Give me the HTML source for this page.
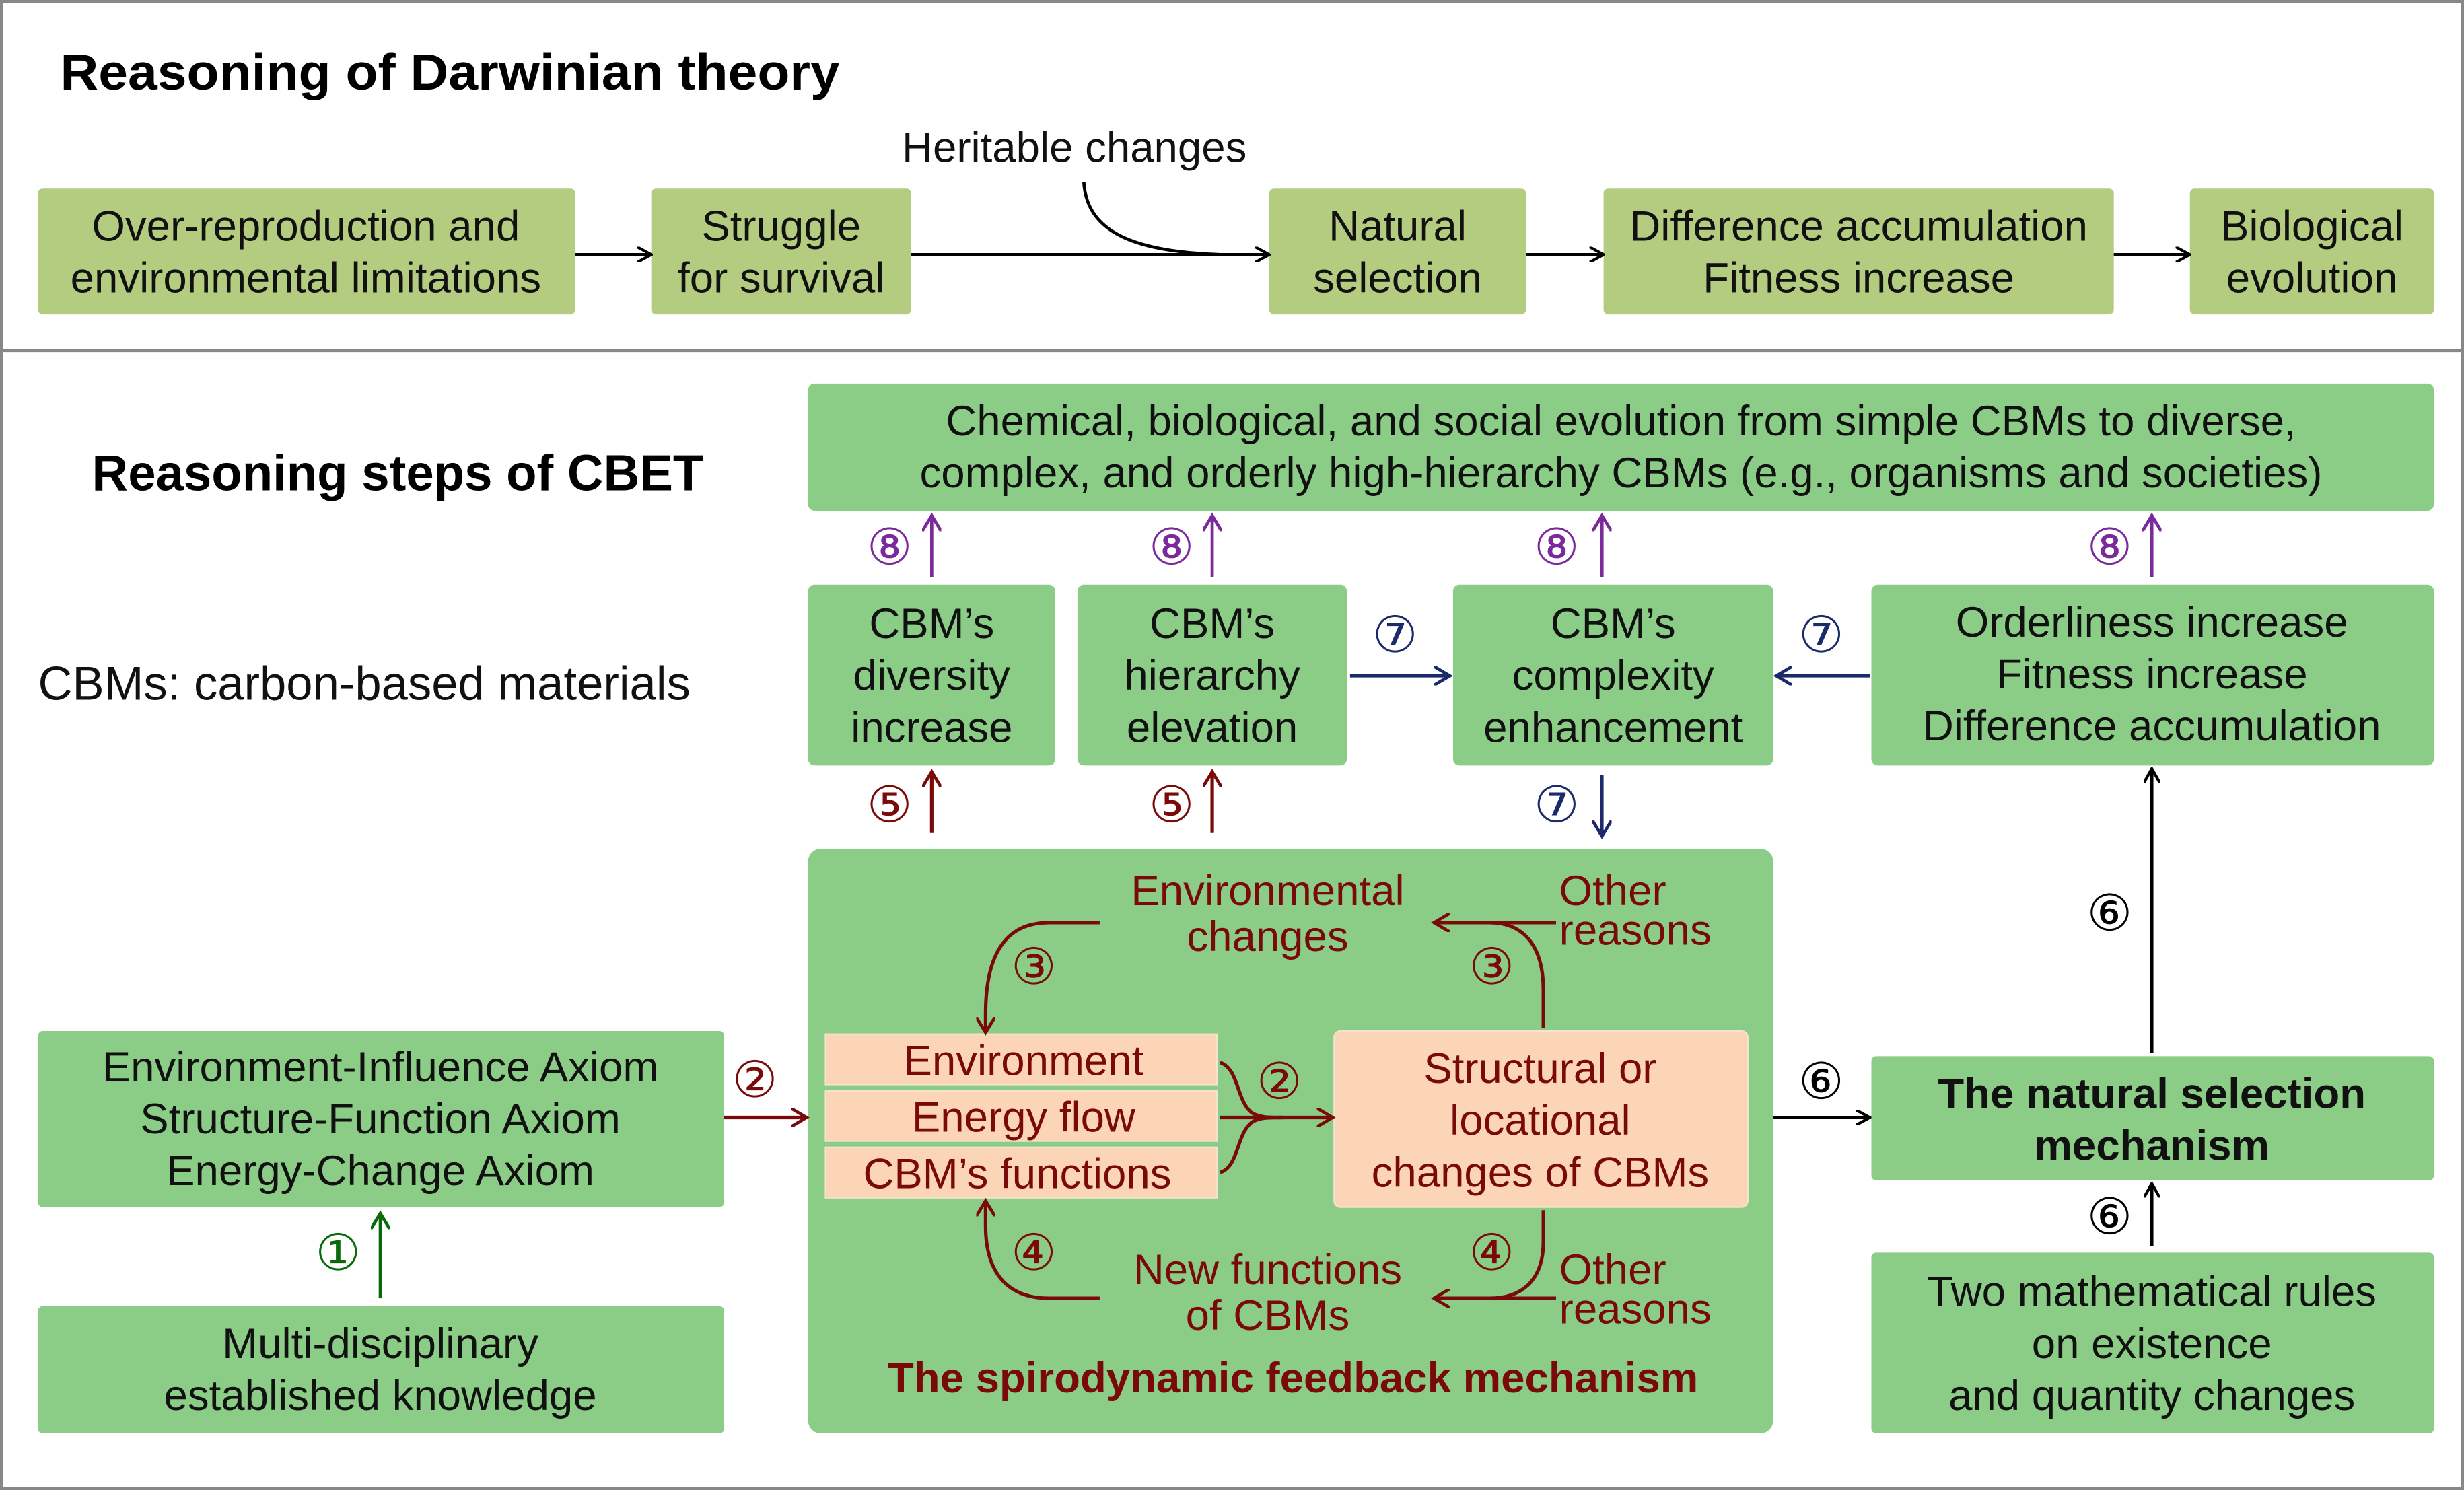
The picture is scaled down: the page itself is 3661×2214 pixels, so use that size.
<!DOCTYPE html>
<html><head><meta charset="utf-8"><style>
html,body{margin:0;padding:0;background:#fff;}
svg{display:block;}
text{font-family:"Liberation Sans","DejaVu Sans",sans-serif;}
</style></head><body>
<svg width="3661" height="2214" viewBox="0 0 1555 948" preserveAspectRatio="none" xmlns="http://www.w3.org/2000/svg">
<defs>
<marker id="ak" markerWidth="10" markerHeight="10" refX="8" refY="5" orient="auto" markerUnits="userSpaceOnUse"><path d="M0,0 L9,5 L0,10" fill="none" stroke="#000" stroke-width="1.8"/></marker>
<marker id="ar" markerWidth="12" markerHeight="12" refX="9" refY="6" orient="auto" markerUnits="userSpaceOnUse"><path d="M0,0 L10,6 L0,12" fill="none" stroke="#7a0a0a" stroke-width="2"/></marker>
<marker id="ab" markerWidth="12" markerHeight="12" refX="9" refY="6" orient="auto" markerUnits="userSpaceOnUse"><path d="M0,0 L10,6 L0,12" fill="none" stroke="#1a2a6a" stroke-width="2"/></marker>
<marker id="ap" markerWidth="12" markerHeight="12" refX="9" refY="6" orient="auto" markerUnits="userSpaceOnUse"><path d="M0,0 L10,6 L0,12" fill="none" stroke="#7a2a9a" stroke-width="2"/></marker>
<marker id="ag" markerWidth="12" markerHeight="12" refX="9" refY="6" orient="auto" markerUnits="userSpaceOnUse"><path d="M0,0 L10,6 L0,12" fill="none" stroke="#0a6a0a" stroke-width="2"/></marker>
</defs>
<rect x="1" y="1" width="1553" height="946" fill="#fff" stroke="#888" stroke-width="2"/>
<line x1="0" y1="223" x2="1555" y2="223" stroke="#888" stroke-width="2"/>

<text x="38" y="57" font-size="32" font-weight="bold" textLength="492" lengthAdjust="spacingAndGlyphs">Reasoning of Darwinian theory</text>
<g fill="#b4cc80">
<rect x="24" y="120" width="339" height="80" rx="3"/>
<rect x="411" y="120" width="164" height="80" rx="3"/>
<rect x="801" y="120" width="162" height="80" rx="3"/>
<rect x="1012" y="120" width="322" height="80" rx="3"/>
<rect x="1382" y="120" width="154" height="80" rx="3"/>
</g>
<g font-size="27" text-anchor="middle" fill="#111">
<text x="193" y="153">Over-reproduction and</text><text x="193" y="186">environmental limitations</text>
<text x="493" y="153">Struggle</text><text x="493" y="186">for survival</text>
<text x="882" y="153">Natural</text><text x="882" y="186">selection</text>
<text x="1173" y="153">Difference accumulation</text><text x="1173" y="186">Fitness increase</text>
<text x="1459" y="153">Biological</text><text x="1459" y="186">evolution</text>
<text x="678" y="103">Heritable changes</text>
</g>
<g stroke="#000" stroke-width="2" fill="none">
<line x1="363" y1="162" x2="410" y2="162" marker-end="url(#ak)"/>
<line x1="575" y1="162" x2="800" y2="162" marker-end="url(#ak)"/>
<path d="M684,116 C686,150 720,160 770,162"/>
<line x1="963" y1="162" x2="1011" y2="162" marker-end="url(#ak)"/>
<line x1="1334" y1="162" x2="1381" y2="162" marker-end="url(#ak)"/>
</g>

<text x="58" y="312" font-size="32" font-weight="bold" textLength="386" lengthAdjust="spacingAndGlyphs">Reasoning steps of CBET</text>
<text x="24" y="445" font-size="30" fill="#111">CBMs: carbon-based materials</text>
<g fill="#8bcd87">
<rect x="510" y="244" width="1026" height="81" rx="4"/>
<rect x="510" y="372" width="156" height="115" rx="4"/>
<rect x="680" y="372" width="170" height="115" rx="4"/>
<rect x="917" y="372" width="202" height="115" rx="4"/>
<rect x="1181" y="372" width="355" height="115" rx="4"/>
<rect x="510" y="540" width="609" height="372" rx="8"/>
<rect x="24" y="656" width="433" height="112" rx="3"/>
<rect x="24" y="831" width="433" height="81" rx="3"/>
<rect x="1181" y="672" width="355" height="79" rx="3"/>
<rect x="1181" y="797" width="355" height="115" rx="3"/>
</g>
<g font-size="27" text-anchor="middle" fill="#111">
<text x="1023" y="277">Chemical, biological, and social evolution from simple CBMs to diverse,</text>
<text x="1023" y="310">complex, and orderly high-hierarchy CBMs (e.g., organisms and societies)</text>
<text x="588" y="406">CBM’s</text><text x="588" y="439">diversity</text><text x="588" y="472">increase</text>
<text x="765" y="406">CBM’s</text><text x="765" y="439">hierarchy</text><text x="765" y="472">elevation</text>
<text x="1018" y="406">CBM’s</text><text x="1018" y="439">complexity</text><text x="1018" y="472">enhancement</text>
<text x="1358" y="405">Orderliness increase</text><text x="1358" y="438">Fitness increase</text><text x="1358" y="471">Difference accumulation</text>
<text x="240" y="688">Environment-Influence Axiom</text><text x="240" y="721">Structure-Function Axiom</text><text x="240" y="754">Energy-Change Axiom</text>
<text x="240" y="864">Multi-disciplinary</text><text x="240" y="897">established knowledge</text>
<text x="1358" y="831">Two mathematical rules</text><text x="1358" y="864">on existence</text><text x="1358" y="897">and quantity changes</text>
<text x="1358" y="705" font-weight="bold">The natural selection</text><text x="1358" y="738" font-weight="bold">mechanism</text>
</g>

<g fill="#fbd5b5" stroke="#f3e3cf" stroke-width="1">
<rect x="521" y="658" width="247" height="32"/>
<rect x="521" y="694" width="247" height="32"/>
<rect x="521" y="730" width="247" height="32"/>
<rect x="842" y="656" width="261" height="112" rx="4"/>
</g>
<g font-size="27" text-anchor="middle" fill="#7a0a0a">
<text x="646" y="684">Environment</text>
<text x="646" y="720">Energy flow</text>
<text x="642" y="756">CBM’s functions</text>
<text x="972" y="689">Structural or</text><text x="972" y="722">locational</text><text x="972" y="755">changes of CBMs</text>
<text x="800" y="576">Environmental</text><text x="800" y="605">changes</text>
<text x="800" y="817">New functions</text><text x="800" y="846">of CBMs</text>
<text x="984" y="576" text-anchor="start">Other</text><text x="984" y="601" text-anchor="start">reasons</text>
<text x="984" y="817" text-anchor="start">Other</text><text x="984" y="842" text-anchor="start">reasons</text>
<text x="816" y="886" font-weight="bold">The spirodynamic feedback mechanism</text>
</g>
<g stroke="#7a0a0a" stroke-width="2.2" fill="none">
<path d="M694,587 L662,587 C636,587 622,605 622,645 L622,656" marker-end="url(#ar)"/>
<path d="M974,654 L974,630 C974,600 960,587 940,587 L906,587" marker-end="url(#ar)"/>
<path d="M982,587 L940,587"/>
<path d="M694,826 L662,826 C636,826 622,810 622,780 L622,765" marker-end="url(#ar)"/>
<path d="M974,770 L974,790 C974,815 960,826 940,826 L906,826" marker-end="url(#ar)"/>
<path d="M982,826 L940,826"/>
<path d="M770,676 C782,680 780,700 790,708 C795,711 800,711 810,711"/>
<path d="M770,746 C782,742 780,722 790,714 C795,711 800,711 810,711"/>
<path d="M770,711 L840,711" marker-end="url(#ar)"/>
<path d="M457,711 L508,711" marker-end="url(#ar)"/>
<line x1="588" y1="530" x2="588" y2="492" marker-end="url(#ar)"/>
<line x1="765" y1="530" x2="765" y2="492" marker-end="url(#ar)"/>
</g>
<g font-size="32" fill="#7a0a0a" font-family="DejaVu Sans">
<text x="638" y="626">③</text><text x="927" y="626">③</text>
<text x="638" y="808">④</text><text x="927" y="808">④</text>
<text x="793" y="699">②</text><text x="462" y="698">②</text>
<text x="547" y="523">⑤</text><text x="725" y="523">⑤</text>
</g>
<g stroke="#1a2a6a" stroke-width="2" fill="none">
<line x1="852" y1="430" x2="914" y2="430" marker-end="url(#ab)"/>
<line x1="1180" y1="430" x2="1122" y2="430" marker-end="url(#ab)"/>
<line x1="1011" y1="493" x2="1011" y2="531" marker-end="url(#ab)"/>
</g>
<g font-size="32" fill="#1a2a6a" font-family="DejaVu Sans">
<text x="866" y="415">⑦</text><text x="1135" y="415">⑦</text><text x="968" y="523">⑦</text>
</g>
<g stroke="#7a2a9a" stroke-width="2" fill="none">
<line x1="588" y1="367" x2="588" y2="329" marker-end="url(#ap)"/>
<line x1="765" y1="367" x2="765" y2="329" marker-end="url(#ap)"/>
<line x1="1011" y1="367" x2="1011" y2="329" marker-end="url(#ap)"/>
<line x1="1358" y1="367" x2="1358" y2="329" marker-end="url(#ap)"/>
</g>
<g font-size="32" fill="#7a2a9a" font-family="DejaVu Sans">
<text x="547" y="359">⑧</text><text x="725" y="359">⑧</text><text x="968" y="359">⑧</text><text x="1317" y="359">⑧</text>
</g>
<g stroke="#000" stroke-width="2" fill="none">
<line x1="1119" y1="711" x2="1179" y2="711" marker-end="url(#ak)"/>
<line x1="1358" y1="670" x2="1358" y2="490" marker-end="url(#ak)"/>
<line x1="1358" y1="793" x2="1358" y2="754" marker-end="url(#ak)"/>
</g>
<g font-size="32" fill="#000" font-family="DejaVu Sans">
<text x="1135" y="699">⑥</text><text x="1317" y="592">⑥</text><text x="1317" y="785">⑥</text>
</g>
<line x1="240" y1="826" x2="240" y2="773" stroke="#0a6a0a" stroke-width="2" marker-end="url(#ag)"/>
<text x="199" y="808" font-size="32" fill="#0a6a0a" font-family="DejaVu Sans">①</text>
</svg>
</body></html>
